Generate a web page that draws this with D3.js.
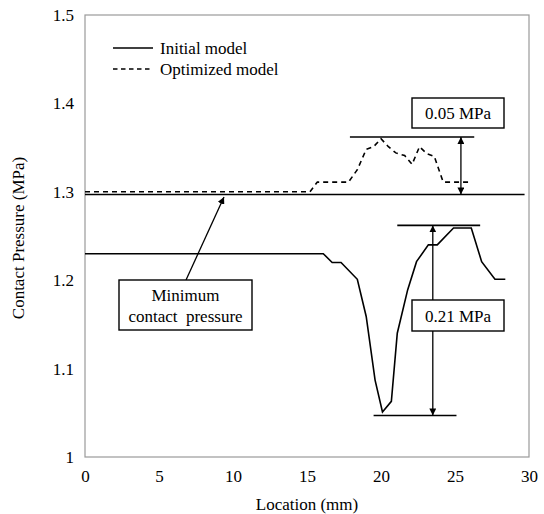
<!DOCTYPE html>
<html><head><meta charset="utf-8">
<script src="https://cdn.jsdelivr.net/npm/d3@7"></script>
<style>body{margin:0;background:#fff}text{font-family:"Liberation Serif","Times New Roman",serif}</style>
</head><body><svg id="c" width="544" height="514"></svg>
<script>
const xTicks=[0,5,10,15,20,25,30];
const yTicks=[1,1.1,1.2,1.3,1.4,1.5];
const initialX=[0,16.1,16.7,17.3,18.4,19.0,19.6,20.1,20.7,21.1,21.8,22.4,23.2,23.8,24.9,26.1,26.8,27.7,28.4];
const initialY=[1.23,1.23,1.22,1.22,1.201,1.159,1.087,1.051,1.063,1.14,1.189,1.221,1.24,1.24,1.259,1.259,1.221,1.201,1.201];
const optX=[0,15.2,15.7,17.8,18.4,19.0,19.5,20.0,20.5,21.0,21.6,22.1,22.6,23.1,23.6,24.2,26.0];
const optY=[1.30,1.30,1.311,1.311,1.325,1.348,1.351,1.36,1.351,1.344,1.341,1.331,1.351,1.343,1.340,1.311,1.311];
const minPressure=1.297;
const legendLabels=["Initial model","Optimized model"];

const FS=17;
const svg=d3.select("#c");
const x=d3.scaleLinear().domain([0,30]).range([85,529]);
const y=d3.scaleLinear().domain([1,1.5]).range([457,15]);

svg.append("defs").append("marker").attr("id","ah").attr("viewBox","0 0 10 10")
 .attr("refX",10).attr("refY",5).attr("markerWidth",7).attr("markerHeight",7)
 .attr("orient","auto-start-reverse").attr("markerUnits","userSpaceOnUse")
 .append("path").attr("d","M0,0L10,5L0,10z").attr("fill","#000");

svg.append("rect").attr("x",85).attr("y",15).attr("width",444).attr("height",442)
 .attr("fill","none").attr("stroke","#9a9a9a").attr("stroke-width",1.2);

const gx=svg.append("g").attr("transform","translate(0,457)")
 .call(d3.axisBottom(x).tickValues(xTicks).tickSize(0).tickPadding(13).tickFormat(d3.format("d")));
gx.select(".domain").remove();
gx.selectAll("text").attr("font-size",FS).attr("fill","#000").attr("font-family","Liberation Serif");
const gy=svg.append("g").attr("transform","translate(85,0)")
 .call(d3.axisLeft(y).tickValues(yTicks).tickSize(0).tickPadding(11).tickFormat(d=>d3.format("")(+d.toFixed(1))));
gy.select(".domain").remove();
gy.selectAll("text").attr("font-size",FS).attr("fill","#000").attr("font-family","Liberation Serif");

svg.append("text").attr("x",307).attr("y",510).attr("text-anchor","middle").attr("font-size",FS).text("Location (mm)");
svg.append("text").attr("transform","translate(24,238) rotate(-90)").attr("text-anchor","middle").attr("font-size",FS).text("Contact Pressure (MPa)");

const line=d3.line().x(d=>x(d[0])).y(d=>y(d[1]));
svg.append("line").attr("x1",x(0)).attr("x2",x(29.7)).attr("y1",y(minPressure)).attr("y2",y(minPressure))
 .attr("stroke","#000").attr("stroke-width",1.6);
svg.append("path").datum(initialX.map((v,i)=>[v,initialY[i]])).attr("d",line)
 .attr("fill","none").attr("stroke","#000").attr("stroke-width",1.6);
svg.append("path").datum(optX.map((v,i)=>[v,optY[i]])).attr("d",line)
 .attr("fill","none").attr("stroke","#000").attr("stroke-width",1.6).attr("stroke-dasharray","5,4");

svg.append("line").attr("x1",113).attr("x2",153).attr("y1",48).attr("y2",48).attr("stroke","#000").attr("stroke-width",1.4);
svg.append("line").attr("x1",113).attr("x2",153).attr("y1",69).attr("y2",69).attr("stroke","#000").attr("stroke-width",1.4).attr("stroke-dasharray","4.5,3.5");
svg.append("text").attr("x",160).attr("y",54).attr("font-size",FS).text(legendLabels[0]);
svg.append("text").attr("x",160).attr("y",75).attr("font-size",FS).text(legendLabels[1]);

function hline(a,b,v){svg.append("line").attr("x1",x(a)).attr("x2",x(b)).attr("y1",y(v)).attr("y2",y(v)).attr("stroke","#000").attr("stroke-width",1.6);}
function darrow(xv,v1,v2){svg.append("line").attr("x1",x(xv)).attr("x2",x(xv)).attr("y1",y(v1)).attr("y2",y(v2))
 .attr("stroke","#000").attr("stroke-width",1.3).attr("marker-start","url(#ah)").attr("marker-end","url(#ah)");}
function box(x0,y0,w,h,lines){
 svg.append("rect").attr("x",x0).attr("y",y0).attr("width",w).attr("height",h).attr("fill","#fff").attr("stroke","#000").attr("stroke-width",1.4);
 lines.forEach((t,i)=>svg.append("text").attr("x",x0+w/2).attr("y",y0+h/2+6+(i-(lines.length-1)/2)*21)
  .attr("text-anchor","middle").attr("font-size",FS).attr("xml:space","preserve").text(t));
}
hline(17.9,26.3,1.362);
darrow(25.4,1.362,minPressure);
box(412,98,92,30,["0.05 MPa"]);
hline(21.1,26.7,1.262);
hline(19.5,25.1,1.047);
darrow(23.5,1.262,1.047);
box(412,300,92,31,["0.21 MPa"]);
svg.append("line").attr("x1",186).attr("y1",280).attr("x2",224).attr("y2",197).attr("stroke","#000").attr("stroke-width",1.3).attr("marker-end","url(#ah)");
box(119,280,133,50,["Minimum","contact  pressure"]);
</script></body></html>
